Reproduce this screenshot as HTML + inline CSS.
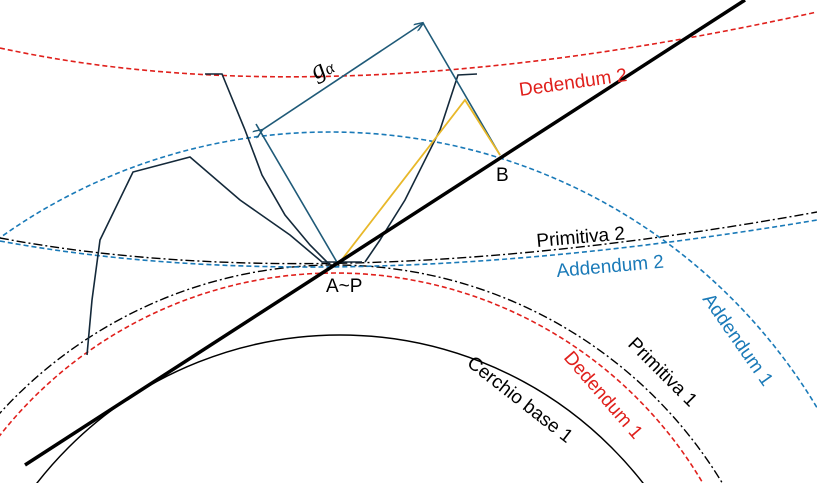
<!DOCTYPE html>
<html><head><style>
html,body{margin:0;padding:0;background:#fff;overflow:hidden}
svg{display:block}
text{font-family:"Liberation Sans",sans-serif;font-size:19px}
</style></head><body>
<svg width="817" height="483" viewBox="0 0 817 483" xmlns="http://www.w3.org/2000/svg">
<defs><marker id="ar" markerWidth="10" markerHeight="8" refX="9" refY="4" orient="auto" markerUnits="userSpaceOnUse"><path d="M0,0 L10,4 L0,8" fill="none" stroke="#1f5a78" stroke-width="1.5"/></marker></defs>
<path d="M0,48 Q330,120 817,12" fill="none" stroke="#e0201c" stroke-width="1.6" stroke-dasharray="5,3"/>
<circle cx="330" cy="700" r="568" fill="none" stroke="#1a7ab8" stroke-width="1.6" stroke-dasharray="5,3"/>
<circle cx="335" cy="718" r="453" fill="none" stroke="#000" stroke-width="1.4" stroke-dasharray="9,3,2,3"/>
<circle cx="335" cy="700" r="427" fill="none" stroke="#e0201c" stroke-width="1.6" stroke-dasharray="5,3"/>
<circle cx="340" cy="719" r="384" fill="none" stroke="#000" stroke-width="1.5"/>
<path d="M0,238 Q330,300 817,212" fill="none" stroke="#000" stroke-width="1.4" stroke-dasharray="9,3,2,3"/>
<path d="M0,241 Q330,302 817,220" fill="none" stroke="#1a7ab8" stroke-width="1.6" stroke-dasharray="5,3"/>
<path d="M87,355 L92,300 L100,240 L133,172 L190,157 L240,200 L290,235 L322,262 L362,262" fill="none" stroke="#14293a" stroke-width="1.6"/>
<path d="M205,74 L222,74 L245,130 L262,175 L285,215 L310,245 L330,265" fill="none" stroke="#14293a" stroke-width="1.6"/>
<path d="M477,74 L458,75 L440,130 L405,200 L380,240 L365,262" fill="none" stroke="#14293a" stroke-width="1.6"/>
<line x1="262" y1="130" x2="423" y2="23" stroke="#1f5a78" stroke-width="1.6" marker-end="url(#ar)" marker-start="url(#ar)"/>
<line x1="423" y1="23" x2="500" y2="155" stroke="#1f5a78" stroke-width="1.6"/>
<line x1="256" y1="124" x2="338" y2="264" stroke="#1f5a78" stroke-width="1.6"/>
<polyline points="340,262 465,100 500,155" fill="none" stroke="#e8b82a" stroke-width="1.8"/>
<line x1="25" y1="465" x2="745" y2="0" stroke="#000" stroke-width="3.5"/>
<text x="316" y="80" transform="rotate(-30 316 80)" font-style="italic" style="font-family:'Liberation Serif',serif;font-size:26px">g<tspan font-size="17" dy="2">α</tspan></text>
<text x="520" y="96" fill="#e0201c" transform="rotate(-8 520 96)">Dedendum 2</text>
<text x="496" y="181">B</text>
<text x="537" y="247" transform="rotate(-5 537 247)">Primitiva 2</text>
<text x="557" y="277" fill="#1a7ab8" transform="rotate(-5 557 277)">Addendum 2</text>
<text x="326" y="292">A~P</text>
<text x="702" y="299" fill="#1a7ab8" transform="rotate(55 702 299)">Addendum 1</text>
<text x="627" y="345" transform="rotate(45 627 345)">Primitiva 1</text>
<text x="563" y="358" fill="#e0201c" transform="rotate(49 563 358)">Dedendum 1</text>
<text x="466" y="365" transform="rotate(38 466 365)">Cerchio base 1</text>
</svg>
</body></html>
